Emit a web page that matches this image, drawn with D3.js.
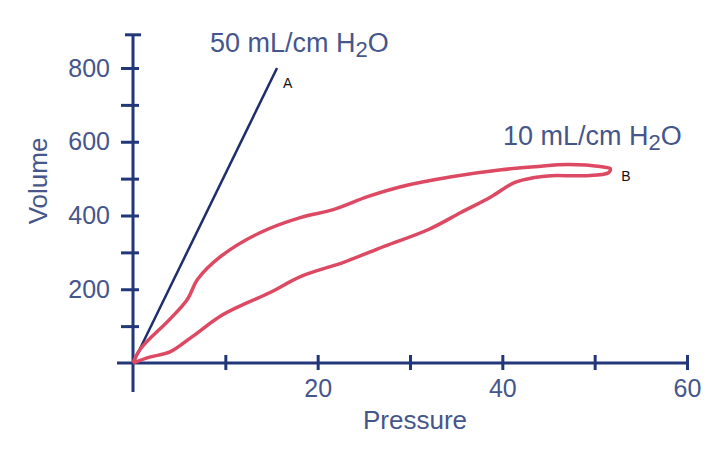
<!DOCTYPE html>
<html>
<head>
<meta charset="utf-8">
<script src="https://cdn.jsdelivr.net/npm/d3@7"></script>
<style>
  body { margin: 0; background: #fff; }
  text { font-family: "Liberation Sans", Arial, sans-serif; }
</style>
</head>
<body>
<div id="chart-area"></div>
<script>
// line A: 50 mL/cm H2O
const pressureA = [0, 15.6];
const volumeA = [0, 800];

// loop B: inflation out, deflation back (10 mL/cm H2O)
const pressureB = [0, 1.8, 4.0, 6.5, 9.8, 14.9, 18.2, 22.8, 27.2, 32.0, 35.5, 38.8, 41.3, 43.5, 45.3, 48.9, 51.5, 51.7,
                   50.8, 47.2, 43.5, 39.9, 34.5, 29.0, 25.4, 21.7, 18.2, 13.8, 9.5, 7.0, 5.9, 4.0, 0.8, 0];
const volumeB = [0, 16, 30, 73, 132, 192, 235, 273, 316, 362, 408, 451, 489, 503, 508, 508, 516, 527,
                 532, 538, 532, 524, 505, 478, 451, 416, 395, 354, 289, 227, 173, 119, 38, 0];

const xTicks = [10, 20, 30, 40, 50, 60];
const xLabels = [20, 40, 60];
const yTicks = [100, 200, 300, 400, 500, 600, 700, 800];
const yLabels = [200, 400, 600, 800];

const W = 723, H = 459;
const AXIS = "#22367a", TEXT = "#46568a", RED = "#dd4862", BLUE = "#1f2d6c";

const svg = d3.select("#chart-area").append("svg")
      .attr("width", W)
      .attr("height", H);

const x = d3.scaleLinear().domain([0, 60]).range([133, 687]);
const y = d3.scaleLinear().domain([0, 800]).range([363, 68]);

// axis lines
svg.append("line")
      .attr("x1", x(0)).attr("x2", x(0))
      .attr("y1", y(890)).attr("y2", y(0) + 29)
      .attr("stroke", AXIS).attr("stroke-width", 3);
svg.append("line")
      .attr("x1", x(0) - 8).attr("x2", x(0) + 8)
      .attr("y1", y(890)).attr("y2", y(890))
      .attr("stroke", AXIS).attr("stroke-width", 3);
svg.append("line")
      .attr("x1", x(0) - 16).attr("x2", x(60))
      .attr("y1", y(0)).attr("y2", y(0))
      .attr("stroke", AXIS).attr("stroke-width", 3);

// Y ticks
const yAxis = svg.append("g")
      .attr("transform", `translate(${x(0)}, 0)`)
      .call(d3.axisLeft(y).tickValues(yTicks).tickSize(12).tickPadding(11)
            .tickFormat(d => yLabels.includes(d) ? d : ""));
yAxis.select(".domain").remove();
yAxis.selectAll(".tick line").attr("x2", 6).attr("x1", -12)
      .attr("stroke", AXIS).attr("stroke-width", 3);
yAxis.selectAll("text").attr("font-size", "25px").attr("fill", TEXT);

// X ticks
const xAxis = svg.append("g")
      .attr("transform", `translate(0, ${y(0)})`)
      .call(d3.axisBottom(x).tickValues(xTicks).tickSize(7).tickPadding(9)
            .tickFormat(d => xLabels.includes(d) ? d : ""));
xAxis.select(".domain").remove();
xAxis.selectAll(".tick line").attr("y1", -8).attr("y2", 7)
      .attr("stroke", AXIS).attr("stroke-width", 3);
xAxis.selectAll("text").attr("font-size", "25px").attr("fill", TEXT);

// axis titles
svg.append("text")
      .attr("x", 415)
      .attr("y", 429)
      .attr("font-size", "26px")
      .attr("text-anchor", "middle")
      .attr("fill", TEXT)
      .text("Pressure");

svg.append("text")
      .attr("transform", "translate(47, 181) rotate(-90)")
      .attr("font-size", "26px")
      .attr("text-anchor", "middle")
      .attr("fill", TEXT)
      .text("Volume");

// line A
const line = d3.line().x(d => x(d[0])).y(d => y(d[1]));
svg.append("path")
      .datum(pressureA.map((p, i) => [p, volumeA[i]]))
      .attr("d", line)
      .attr("fill", "none")
      .attr("stroke", BLUE)
      .attr("stroke-width", 2.5);

// loop B
const loop = d3.line().x(d => x(d[0])).y(d => y(d[1])).curve(d3.curveCatmullRom);
svg.append("path")
      .datum(pressureB.map((p, i) => [p, volumeB[i]]))
      .attr("d", loop)
      .attr("fill", "none")
      .attr("stroke", RED)
      .attr("stroke-width", 3.5)
      .attr("stroke-linejoin", "round");

// labels
function compliance(tx, ty, num) {
      const t = svg.append("text")
            .attr("x", tx).attr("y", ty)
            .attr("font-size", "27px")
            .attr("fill", TEXT);
      t.append("tspan").text(num + " mL/cm H");
      t.append("tspan").attr("dy", 5).attr("font-size", "22px").text("2");
      t.append("tspan").attr("dy", -5).text("O");
}
compliance(210, 52, 50);
compliance(503, 145, 10);

svg.append("text")
      .attr("x", x(pressureA[1]) + 6)
      .attr("y", y(volumeA[1]) + 20)
      .attr("font-size", "14px")
      .attr("fill", "#111")
      .text("A");

svg.append("text")
      .attr("x", x(d3.max(pressureB)) + 11)
      .attr("y", y(volumeB[16]) + 8)
      .attr("font-size", "14px")
      .attr("fill", "#111")
      .text("B");
</script>
</body>
</html>
